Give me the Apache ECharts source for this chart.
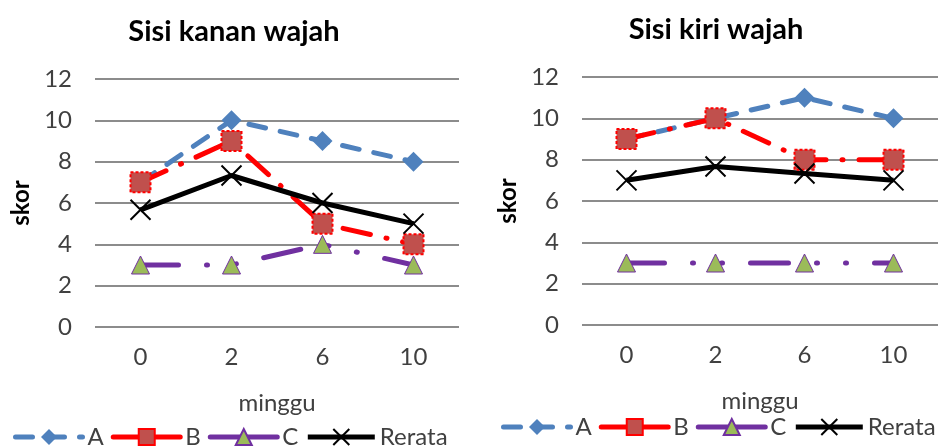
<!DOCTYPE html>
<html>
<head>
<meta charset="utf-8">
<script src="https://cdn.jsdelivr.net/npm/echarts@6/dist/echarts.min.js"></script>
<style>
  html, body { margin: 0; padding: 0; background: #fff; }
  #main { width: 950px; height: 446px; }
</style>
</head>
<body>
<div id="main"></div>
<script>
var minggu = ['0', '2', '6', '10'];

// Sisi kanan wajah
var kananA = [7, 10, 9, 8];
var kananB = [7, 9, 5, 4];
var kananC = [3, 3, 4, 3];
var kananRerata = [5.67, 7.33, 6, 5];

// Sisi kiri wajah
var kiriA = [9, 10, 11, 10];
var kiriB = [9, 10, 8, 8];
var kiriC = [3, 3, 3, 3];
var kiriRerata = [7, 7.67, 7.33, 7];

var font = 'Lato, "Open Sans", sans-serif';
var xMark = 'path://M0,0L10,10M10,0L0,10';

function makeSeries(idx, a, b, c, r) {
  return [
    {
      name: 'A', type: 'line', data: a, xAxisIndex: idx, yAxisIndex: idx,
      symbol: 'diamond', symbolSize: 20,
      lineStyle: { color: '#4F81BD', width: 5, type: [17, 15], cap: 'round' },
      itemStyle: { color: '#4F81BD' }
    },
    {
      name: 'B', type: 'line', data: b, xAxisIndex: idx, yAxisIndex: idx,
      symbol: 'rect', symbolSize: 20,
      lineStyle: { color: '#FF0000', width: 5, type: [28, 16, 1, 16], cap: 'round' },
      itemStyle: { color: '#C0504D', borderColor: '#FF0000', borderWidth: 2, borderType: [3, 2] }
    },
    {
      name: 'C', type: 'line', data: c, xAxisIndex: idx, yAxisIndex: idx,
      symbol: 'triangle', symbolSize: 18,
      lineStyle: { color: '#7030A0', width: 5, type: [38, 28, 1, 28, 1, 28], cap: 'round' },
      itemStyle: { color: '#9BBB59', borderColor: '#7030A0', borderWidth: 1 }
    },
    {
      name: 'Rerata', type: 'line', data: r, xAxisIndex: idx, yAxisIndex: idx,
      symbol: xMark, symbolSize: 20,
      lineStyle: { color: '#000', width: 5 },
      itemStyle: { color: 'none', borderColor: '#000', borderWidth: 2 }
    }
  ];
}

function xAxisFor(idx) {
  return {
    type: 'category', gridIndex: idx, data: minggu, boundaryGap: true,
    axisLine: { show: false }, axisTick: { show: false },
    axisLabel: { color: '#404040', fontSize: 24, fontFamily: font, margin: 18 },
    name: 'minggu', nameLocation: 'middle', nameGap: 64,
    nameTextStyle: { color: '#404040', fontSize: 24, fontFamily: font }
  };
}

function yAxisFor(idx) {
  return {
    type: 'value', gridIndex: idx, min: 0, max: 12, interval: 2,
    axisLine: { show: false }, axisTick: { show: false },
    axisLabel: { color: '#404040', fontSize: 24, fontFamily: font, margin: 23 },
    splitLine: { lineStyle: { color: '#8C8C8C', width: 2 } },
    name: 'skor', nameLocation: 'middle', nameGap: 62,
    nameTextStyle: { color: '#000', fontSize: 24, fontWeight: 'bold', fontFamily: font }
  };
}

function legendFor(left, top) {
  return {
    left: left, top: top, width: 470, itemWidth: 67, itemHeight: 20, itemGap: 7,
    data: [
      { name: 'A' },
      { name: 'B', lineStyle: { type: 'solid' } },
      { name: 'C', lineStyle: { type: 'solid' } },
      { name: 'Rerata' }
    ],
    lineStyle: { width: 5 },
    textStyle: { color: '#404040', fontSize: 24, fontFamily: font }
  };
}

var chart = echarts.init(document.getElementById('main'), null, { renderer: 'canvas' });
chart.setOption({
  animation: false,
  backgroundColor: '#fff',
  title: [
    { text: 'Sisi kanan wajah', left: 229, top: 12, textAlign: 'center',
      textStyle: { fontSize: 29, fontWeight: 'bold', color: '#000', fontFamily: font } },
    { text: 'Sisi kiri wajah', left: 711, top: 10, textAlign: 'center',
      textStyle: { fontSize: 29, fontWeight: 'bold', color: '#000', fontFamily: font } }
  ],
  legend: [legendFor(8, 420), legendFor(496, 410)],
  grid: [
    { left: 95, top: 79, width: 364, height: 248 },
    { left: 582, top: 77, width: 356, height: 248 }
  ],
  xAxis: [xAxisFor(0), xAxisFor(1)],
  yAxis: [yAxisFor(0), yAxisFor(1)],
  series: makeSeries(0, kananA, kananB, kananC, kananRerata)
    .concat(makeSeries(1, kiriA, kiriB, kiriC, kiriRerata))
});
</script>
</body>
</html>
